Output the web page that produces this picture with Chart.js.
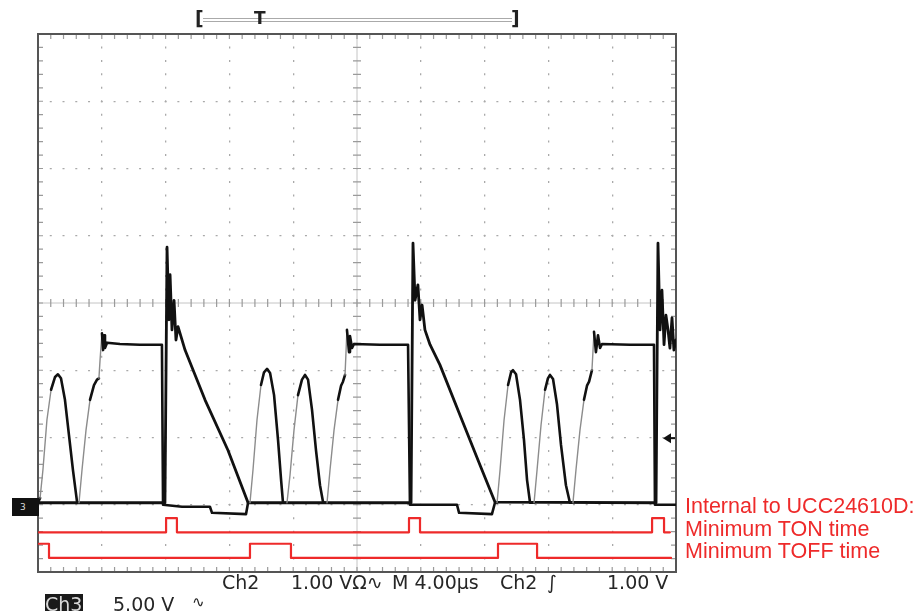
<!DOCTYPE html>
<html>
<head>
<meta charset="utf-8">
<title>UCC24610 minimum on/off time</title>
<script src="https://cdn.jsdelivr.net/npm/chart.js@4.4.1/dist/chart.umd.min.js"></script>
<style>
  html, body { margin: 0; padding: 0; background: #fff; }
  #wrap { position: relative; width: 914px; height: 611px; overflow: hidden; }
  #wrap canvas { position: absolute; left: 0; top: 0; }
  .lbl { position: absolute; white-space: nowrap; line-height: 1; }
  .scope { font-family: "DejaVu Sans", sans-serif; font-size: 19px; color: #262626; }
  .note { font-family: "Liberation Sans", Arial, sans-serif; font-size: 21.5px; color: #ee2a2a; }
  .brk { font-family: "DejaVu Sans", sans-serif; font-weight: bold; font-size: 19px; color: #222; }
</style>
</head>
<body>
<div id="wrap">
  <canvas id="scope" width="914" height="611"></canvas>

  <!-- barre de position du déclenchement -->
  <div style="position:absolute;left:203px;top:18px;width:309px;height:2px;border-top:1px solid #aaa;border-bottom:1px solid #aaa;"></div>
  <div class="lbl brk" style="left:195px;top:9px;">[</div>
  <div class="lbl brk" style="left:254px;top:10px;font-size:17px;">T</div>
  <div class="lbl brk" style="left:511px;top:9px;">]</div>

  <!-- repère de masse de la voie -->
  <div style="position:absolute;left:12px;top:498px;width:27px;height:18px;background:#111;"></div>
  <div class="lbl" style="left:20px;top:502px;font:9px 'DejaVu Sans',sans-serif;color:#ddd;">3</div>

  <!-- annotations -->
  <div class="lbl note" style="left:685px;top:496px;">Internal to UCC24610D:</div>
  <div class="lbl note" style="left:685px;top:519px;">Minimum TON time</div>
  <div class="lbl note" style="left:685px;top:541px;">Minimum TOFF time</div>

  <!-- ligne d'état de l'oscilloscope -->
  <div class="lbl scope" style="left:222px;top:573px;">Ch2</div>
  <div class="lbl scope" style="left:291px;top:573px;">1.00 VΩ∿</div>
  <div class="lbl scope" style="left:392px;top:573px;">M 4.00µs</div>
  <div class="lbl scope" style="left:500px;top:573px;">Ch2</div>
  <div class="lbl scope" style="left:547px;top:573px;">∫</div>
  <div class="lbl scope" style="left:607px;top:573px;">1.00 V</div>

  <div style="position:absolute;left:45px;top:594px;width:38px;height:18px;background:#1a1a1a;"></div>
  <div class="lbl scope" style="left:45px;top:595px;color:#d8d8d8;">Ch3</div>
  <div class="lbl scope" style="left:113px;top:595px;">5.00 V</div>
  <div class="lbl scope" style="left:192px;top:595px;font-size:15px;">∿</div>
</div>

<script>
// temps en µs (4 µs/div, 10 div), tension en divisions (centre = 0)

// tension de drain : bosses de résonance, plateau, chute à la conduction
const drainT = [
  0, 0.13, 0.31, 0.56, 0.82, 1.07, 1.25, 1.44, 1.69, 1.94, 2.19, 2.45, 2.51,
  2.57, 2.76, 3.01, 3.26, 3.51, 3.70, 3.82, 3.89, 4.01, 4.08, 4.14, 4.20, 4.33, 5.14, 6.39, 7.77,
  7.84, 9.03, 10.78, 10.91, 13.04, 13.17,
  13.29, 13.48, 13.73, 13.98, 14.17, 14.36, 14.55, 14.80, 15.05, 15.24, 15.36, 15.49,
  15.61, 15.80, 16.05, 16.30, 16.55, 16.74, 16.93, 17.18, 17.43, 17.68, 17.87, 17.99,
  18.12, 18.31, 18.56, 18.81, 19.00, 19.12, 19.25, 19.37, 19.50, 19.56, 19.69, 19.81, 21.44, 23.20,
  23.32, 24.58, 26.27, 26.40, 28.46, 28.65,
  28.78, 28.97, 29.22, 29.47, 29.66, 29.78, 29.97, 30.22, 30.47, 30.66, 30.85, 30.97,
  31.10, 31.29, 31.54, 31.79, 31.97, 32.10, 32.29, 32.54, 32.79, 33.10, 33.35, 33.48,
  33.54, 33.73, 33.98, 34.23, 34.42, 34.55, 34.73, 34.86, 34.98, 35.11, 35.24, 35.36, 37.12, 38.62,
  38.68, 40.00
];
const drainV = [
  -2.97, -2.90, -2.48, -1.74, -1.29, -1.10, -1.06, -1.12, -1.44, -1.96, -2.48, -2.96, -2.97,
  -2.97, -2.48, -1.89, -1.44, -1.22, -1.14, -1.12, -0.85, -0.45, -0.70, -0.48, -0.67, -0.59, -0.61, -0.62, -0.62,
  -3.00, -3.03, -3.03, -3.12, -3.14, -2.97,
  -2.97, -2.48, -1.74, -1.22, -1.03, -0.98, -1.04, -1.37, -2.04, -2.63, -2.97, -2.97,
  -2.97, -2.56, -1.89, -1.37, -1.14, -1.07, -1.14, -1.59, -2.19, -2.71, -2.96, -2.97,
  -2.97, -2.48, -1.89, -1.44, -1.23, -1.17, -1.07, -0.40, -0.73, -0.49, -0.67, -0.61, -0.62, -0.62,
  -3.00, -3.00, -3.00, -3.12, -3.14, -2.97,
  -2.97, -2.48, -1.74, -1.22, -1.03, -1.00, -1.06, -1.44, -2.04, -2.63, -2.97, -2.97,
  -2.97, -2.48, -1.81, -1.29, -1.12, -1.07, -1.13, -1.51, -2.11, -2.71, -2.97, -2.97,
  -2.97, -2.48, -1.89, -1.44, -1.23, -1.17, -1.00, -0.43, -0.73, -0.48, -0.67, -0.61, -0.62, -0.62,
  -3.00, -3.00
];

// courant de sortie : ligne de base, pic puis rampe descendante
const currentT = [
  0, 7.96, 8.09, 8.21, 8.28, 8.40, 8.53, 8.65, 8.78, 9.22, 10.47, 11.91, 13.17,
  23.39, 23.51, 23.64, 23.82, 23.95, 24.08, 24.26, 24.58, 25.20, 26.46, 27.71, 28.65,
  38.75, 38.87, 39.00, 39.12, 39.25, 39.37, 39.50, 39.62, 39.75, 39.87, 40.00
];
const currentV = [
  -2.97, -2.97, 0.83, -0.25, 0.42, -0.40, 0.04, -0.55, -0.35, -0.70, -1.44, -2.19, -2.97,
  -2.97, 0.89, 0.04, 0.27, -0.25, -0.03, -0.40, -0.62, -0.92, -1.67, -2.41, -2.96,
  -2.97, 0.89, -0.40, 0.19, -0.62, -0.18, -0.40, -0.67, -0.22, -0.70, -0.55
];

// signaux internes (niveau après chaque front)
const tonT = [0.06, 8.03, 8.71, 23.26, 23.95, 38.50, 39.25, 39.62];
const tonV = [-3.41, -3.20, -3.41, -3.20, -3.41, -3.20, -3.41, -3.41];
const toffT = [0.06, 0.69, 13.29, 15.86, 28.84, 31.29, 39.69];
const toffV = [-3.58, -3.79, -3.58, -3.79, -3.58, -3.79, -3.79];

const triggerLevel = -2.01;

const pts = (t, v) => t.map((x, i) => ({ x, y: v[i] }));

// front montant rapide : trace plus pâle et plus fine
const montee = c => c.p1.parsed.y - c.p0.parsed.y > 0.25;

// graticule : axes centraux gradués, cadre gradué, repère de déclenchement
const graticule = {
  id: "graticule",
  beforeDatasetsDraw(chart) {
    const { ctx, chartArea: a, scales: { x, y } } = chart;
    const cx = x.getPixelForValue(20), cy = y.getPixelForValue(0);
    ctx.save();
    ctx.strokeStyle = "#c4c4c4";
    ctx.lineWidth = 1;
    ctx.beginPath();
    ctx.moveTo(cx, a.top); ctx.lineTo(cx, a.bottom);
    ctx.moveTo(a.left, cy); ctx.lineTo(a.right, cy);
    ctx.stroke();

    ctx.strokeStyle = "#9a9a9a";
    ctx.lineWidth = 1.2;
    ctx.beginPath();
    for (let t = 0.8; t < 40; t += 0.8) {
      const px = x.getPixelForValue(t);
      ctx.moveTo(px, cy - 4); ctx.lineTo(px, cy + 4);
      ctx.moveTo(px, a.top); ctx.lineTo(px, a.top + 5);
      ctx.moveTo(px, a.bottom); ctx.lineTo(px, a.bottom - 5);
    }
    for (let v = -3.8; v < 4; v += 0.2) {
      const py = y.getPixelForValue(v);
      ctx.moveTo(cx - 4, py); ctx.lineTo(cx + 4, py);
      ctx.moveTo(a.left, py); ctx.lineTo(a.left + 5, py);
      ctx.moveTo(a.right, py); ctx.lineTo(a.right - 5, py);
    }
    ctx.stroke();

    ctx.strokeStyle = "#555";
    ctx.lineWidth = 2;
    ctx.strokeRect(a.left, a.top, a.right - a.left, a.bottom - a.top);

    const ty = y.getPixelForValue(triggerLevel);
    ctx.fillStyle = "#111";
    ctx.beginPath();
    ctx.moveTo(a.right - 13, ty);
    ctx.lineTo(a.right - 5, ty - 5);
    ctx.lineTo(a.right - 5, ty + 5);
    ctx.closePath();
    ctx.fill();
    ctx.strokeStyle = "#111";
    ctx.beginPath();
    ctx.moveTo(a.right - 6, ty); ctx.lineTo(a.right - 1, ty);
    ctx.stroke();
    ctx.restore();
  }
};

const traceBase = { showLine: true, pointRadius: 0, tension: 0, fill: false, borderJoinStyle: "round", borderCapStyle: "round" };

new Chart(document.getElementById("scope"), {
  type: "line",
  data: {
    datasets: [
      { ...traceBase, label: "TON", data: pts(tonT, tonV), stepped: "before", borderColor: "#ee2a2a", borderWidth: 2.2 },
      { ...traceBase, label: "TOFF", data: pts(toffT, toffV), stepped: "before", borderColor: "#ee2a2a", borderWidth: 2.2 },
      {
        ...traceBase, label: "Drain", data: pts(drainT, drainV), borderColor: "#111", borderWidth: 2.6,
        segment: {
          borderColor: c => montee(c) ? "#8c8c8c" : "#111",
          borderWidth: c => montee(c) ? 1.4 : 2.6,
        },
      },
      { ...traceBase, label: "Courant", data: pts(currentT, currentV), borderColor: "#111", borderWidth: 2.8 },
    ],
  },
  options: {
    responsive: false,
    animation: false,
    events: [],
    layout: { padding: { left: 38, top: 34, right: 238, bottom: 39 } },
    scales: {
      x: {
        type: "linear", min: 0, max: 40,
        ticks: { display: false, stepSize: 4 },
        border: { display: false, dash: [2, 11.45], dashOffset: 1 },
        grid: {
          drawTicks: false, lineWidth: 1.3,
          color: c => [0, 20, 40].includes(c.tick.value) ? "rgba(0,0,0,0)" : "#a9a9a9",
        },
      },
      y: {
        type: "linear", min: -4, max: 4,
        ticks: { display: false, stepSize: 1 },
        border: { display: false, dash: [2, 10.76], dashOffset: 1 },
        grid: {
          drawTicks: false, lineWidth: 1.3,
          color: c => [-4, 0, 4].includes(c.tick.value) ? "rgba(0,0,0,0)" : "#a9a9a9",
        },
      },
    },
    plugins: { legend: { display: false }, tooltip: { enabled: false } },
  },
  plugins: [graticule],
});
</script>
</body>
</html>
